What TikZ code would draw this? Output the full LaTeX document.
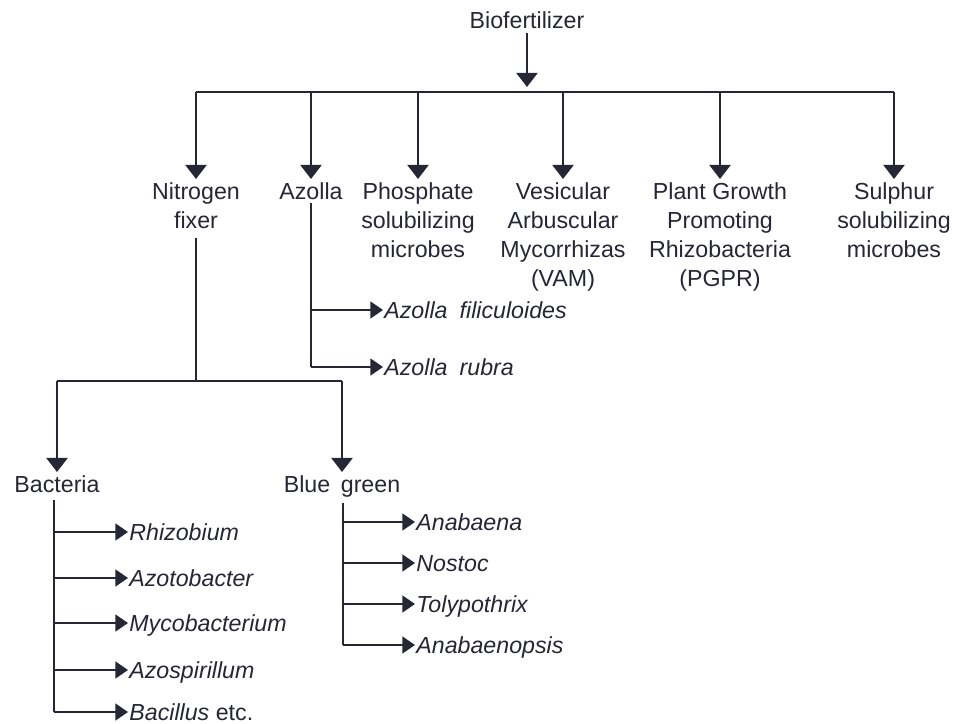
\documentclass[tikz,border=0pt]{standalone}
\usepackage{fontspec}
\setmainfont{Liberation Sans}
\usepackage{xcolor}
\usetikzlibrary{positioning, arrows.meta}

\definecolor{ink}{RGB}{38,38,52}

\begin{document}
\begin{tikzpicture}[
        x=0.025cm, y=-0.025cm,
        font=\fontsize{16.5}{20.6}\selectfont, text=ink,
        wire/.style={line width=1.4pt, ink},
        droparrow/.style={wire, -{Triangle[length=10pt, width=15pt]}},
        twig/.style={wire, -{Triangle[length=9pt, width=12pt]}},
        catbox/.style={align=center, inner sep=0pt, outer sep=2.5pt, anchor=north},
        species/.style={anchor=west, inner sep=0pt, outer sep=1pt, text height=11.5pt, text depth=0pt, font=\fontsize{16.5}{20.6}\selectfont\itshape},
    ]
    \useasboundingbox (0,0) rectangle (957,723);

    % === ROOT ===
    \node (bio) at (527,20) {Biofertilizer};
    \coordinate (hub) at (527,87);
    \draw[droparrow] (bio) -- (hub);

    % main bar
    \coordinate (barL) at (196,92);
    \coordinate (barR) at (894,92);
    \draw[wire] (barL) -- (barR);
    \foreach \n/\x in {nit/196, azo/311, pho/418, vam/563, pgp/720, sul/894}
        \coordinate (\n-top) at (\x,92);

    % === CATEGORIES ===
    \node[catbox] (nit) at (196,179) {Nitrogen\\fixer};
    \node[catbox] (azo) at (311,179) {Azolla};
    \node[catbox] (pho) at (418,179) {Phosphate\\solubilizing\\microbes};
    \node[catbox] (vam) at (563,179) {Vesicular\\Arbuscular\\Mycorrhizas\\(VAM)};
    \node[catbox] (pgp) at (720,179) {Plant Growth\\Promoting\\Rhizobacteria\\(PGPR)};
    \node[catbox] (sul) at (894,179) {Sulphur\\solubilizing\\microbes};

    \foreach \n in {nit, azo, pho, vam, pgp, sul}
        \draw[droparrow] (\n-top) -- (\n);

    % === AZOLLA ===
    \coordinate (azo-1) at (311,310);
    \coordinate (azo-2) at (311,367);
    \node[species] (afil) at (383,310) {Azolla\hspace{4pt} filiculoides};
    \node[species] (arub) at (383,367) {Azolla\hspace{4pt} rubra};
    \draw[wire] (azo) -- (azo-2);
    \draw[twig] (azo-1) -- (afil);
    \draw[twig] (azo-2) -- (arub);

    % === NITROGEN FIXER ===
    \coordinate (nit-bus) at (196,381);
    \coordinate (subL) at (57,381);
    \coordinate (subR) at (342,381);
    \draw[wire, shorten <=4pt] (nit) -- (nit-bus);
    \draw[wire] (subL) -- (subR);
    \node[catbox] (bac) at (57,472) {Bacteria};
    \node[catbox] (bgr) at (342,472) {Blue\hspace{3pt} green};
    \draw[droparrow] (subL) -- (bac);
    \draw[droparrow] (subR) -- (bgr);

    % Bacteria list
    \coordinate (bac-end) at (54,712);
    \draw[wire, shorten <=3pt] (bac.south -| bac-end) -- (bac-end);
    \node[species] (rhi) at (128,532) {Rhizobium};
    \node[species] (azt) at (128,578) {Azotobacter};
    \node[species] (myc) at (128,623) {Mycobacterium};
    \node[species] (azs) at (128,670) {Azospirillum};
    \node[species] (bcl) at (128,712) {Bacillus \textup{etc.}};
    \foreach \s/\y in {rhi/532, azt/578, myc/623, azs/670, bcl/712}
        \draw[twig] (54,\y) coordinate (\s-in) -- (\s);

    % Blue green list
    \coordinate (bgr-end) at (343,645);
    \draw[wire, shorten <=2pt] (bgr.south -| bgr-end) -- (bgr-end);
    \node[species] (anb) at (415,522) {Anabaena};
    \node[species] (nos) at (415,563) {Nostoc};
    \node[species] (tol) at (415,604) {Tolypothrix};
    \node[species] (anp) at (415,645) {Anabaenopsis};
    \foreach \s/\y in {anb/522, nos/563, tol/604, anp/645}
        \draw[twig] (343,\y) coordinate (\s-in) -- (\s);

\end{tikzpicture}
\end{document}
